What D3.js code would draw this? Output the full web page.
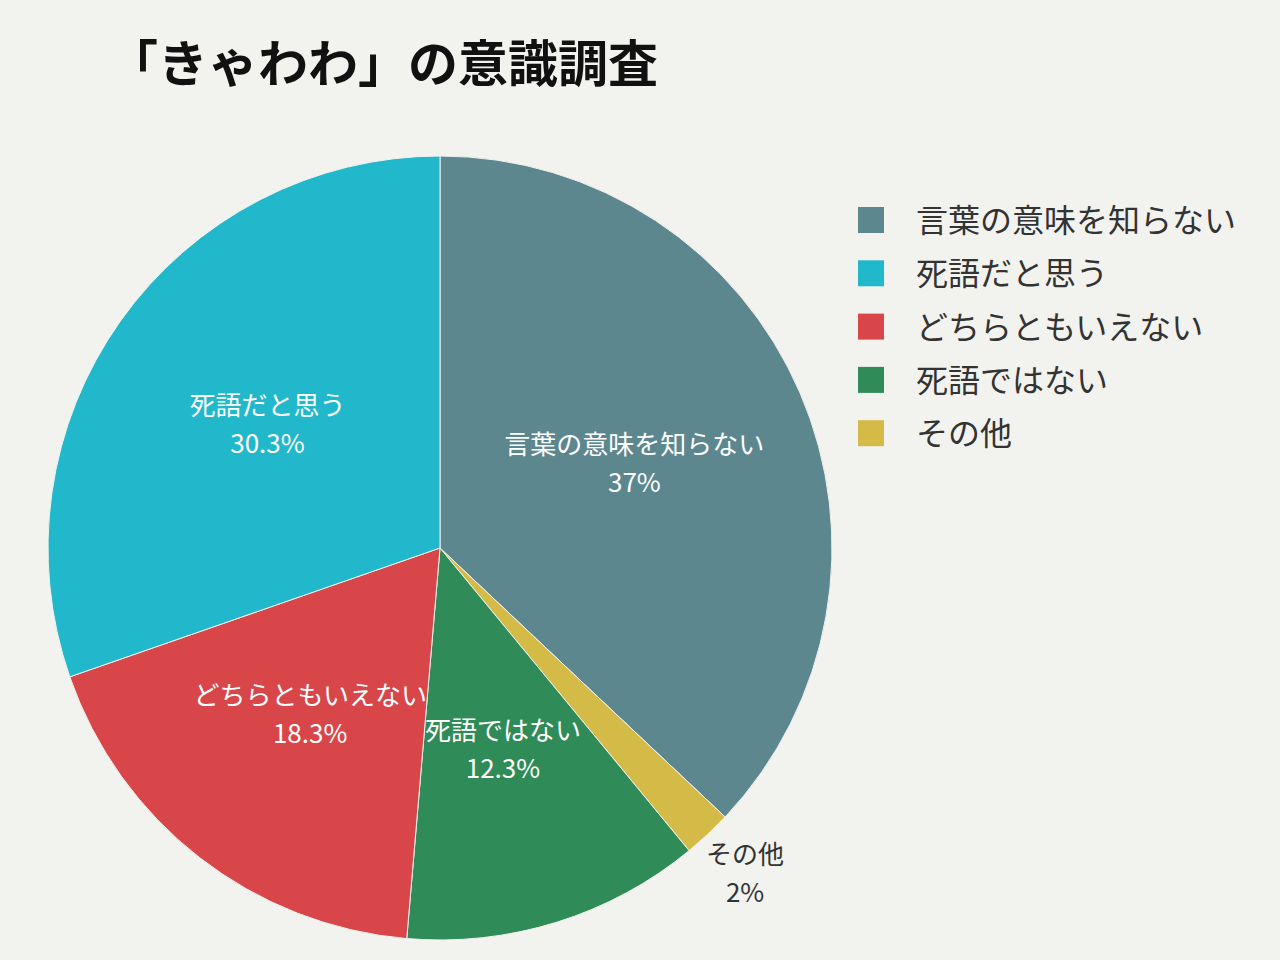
<!DOCTYPE html>
<html><head><meta charset="utf-8">
<script src="https://cdn.jsdelivr.net/npm/d3@7"></script>
<style>body{margin:0;background:#f2f2ee;}svg{display:block;font-family:"Noto Sans CJK JP","Noto Sans",sans-serif;}</style>
</head><body>
<script>
const categories = ["言葉の意味を知らない","その他","死語ではない","どちらともいえない","死語だと思う"];
const values = [37, 2, 12.3, 18.3, 30.3];
const valueLabels = ["37%","2%","12.3%","18.3%","30.3%"];
const colors = ["#5d878f","#d4bb48","#2f8b57","#d9464a","#21b8cc"];
const legendOrder = ["言葉の意味を知らない","死語だと思う","どちらともいえない","死語ではない","その他"];

const W=1280,H=960, cx=440, cy=548, R=392;
const svg=d3.select("body").append("svg").attr("width",W).attr("height",H);
svg.append("rect").attr("width",W).attr("height",H).attr("fill","#f2f2ee");
svg.append("text").attr("x",108).attr("y",82).attr("font-size",50).attr("font-weight","bold").attr("fill","#111").text("「きゃわわ」の意識調査");

const data=categories.map((c,i)=>({c,v:values[i],l:valueLabels[i],col:colors[i]}));
const pie=d3.pie().value(d=>d.v).sort(null);
const arcs=pie(data);
const arc=d3.arc().innerRadius(0).outerRadius(R);
const g=svg.append("g").attr("transform",`translate(${cx},${cy})`);
g.selectAll("path").data(arcs).join("path").attr("d",arc).attr("fill",d=>d.data.col).attr("stroke","#f2f2ee").attr("stroke-width",1);
const labArc=d3.arc().innerRadius(R*0.54).outerRadius(R*0.54);
const outArc=d3.arc().innerRadius(R*1.14).outerRadius(R*1.14);
arcs.forEach(a=>{
  const small=a.data.v<5;
  const [x,y]=(small?outArc:labArc).centroid(a);
  const t=g.append("text").attr("text-anchor","middle").attr("font-size",26).attr("fill",small?"#333":"#fff");
  t.append("tspan").attr("x",x).attr("y",y-10).text(a.data.c);
  t.append("tspan").attr("x",x).attr("y",y+28).text(a.data.l);
});
const lg=svg.append("g");
legendOrder.forEach((c,i)=>{
  const col=colors[categories.indexOf(c)];
  const y=220+i*53.3;
  lg.append("rect").attr("x",858).attr("y",y-13).attr("width",26).attr("height",26).attr("fill",col);
  lg.append("text").attr("x",916).attr("y",y+12).attr("font-size",32).attr("fill","#333").text(c);
});
</script>
</body></html>
